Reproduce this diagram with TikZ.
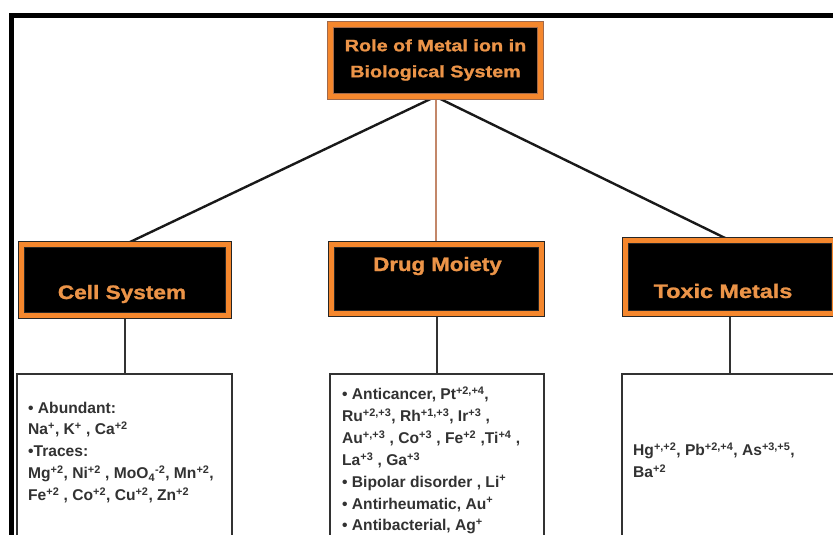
\documentclass[tikz,border=0pt]{standalone}
\usepackage{fontspec}
\setmainfont{Liberation Sans}
\newfontfamily\headfont[FakeBold=1.2]{Liberation Sans Bold}
\usetikzlibrary{backgrounds}
\definecolor{orng}{RGB}{245,135,45}
\definecolor{txtor}{RGB}{236,148,72}
\definecolor{brn}{RGB}{160,105,75}
\definecolor{ink}{RGB}{50,50,50}
\definecolor{tan}{RGB}{195,135,105}
\begin{document}
\begin{tikzpicture}[x=1pt,y=-1pt,
  hbox/.style={draw=black!85, double=orng, double distance=5pt, line width=0.9pt,
    fill=black, inner sep=0pt, outer sep=0pt},
  htext/.style={text=txtor, font=\fontsize{19.5}{22}\selectfont\headfont, inner sep=0pt},
  lbox/.style={draw=ink, line width=2pt, fill=white, inner sep=0pt, outer sep=0pt},
  ltext/.style={text=ink, font=\fontsize{15.6}{21.9}\selectfont\bfseries, align=left,
    anchor=north west, inner sep=0pt},
  conn/.style={line width=2.4pt, draw=black!90}
]
\useasboundingbox (0,0) rectangle (833,535);
\clip (0,0) rectangle (833,535);

% outer frame
\draw[line width=5pt, line cap=rect] (11.5,540) -- (11.5,15.5) -- (840,15.5);

% heading boxes
\node[hbox, draw=brn, minimum width=210.2pt, minimum height=72.2pt] (title) at (435.5,60.5) {};
\node[hbox, minimum width=207.2pt, minimum height=71.2pt] (cell) at (125,280) {};
\node[hbox, minimum width=210.2pt, minimum height=69.2pt] (drug) at (436.5,279) {};
\node[hbox, minimum width=209.2pt, minimum height=73.2pt] (tox) at (730,277) {};

% heading texts
\node[htext, font=\fontsize{16.5}{26}\selectfont\headfont, align=center] (titletxt) at (435.5,60)
  {\scalebox{1.2}[1]{Role of Metal ion in}\\\scalebox{1.2}[1]{Biological System}};
\node[htext] (celltxt) at (122,294) {\scalebox{1.16}[1]{Cell System}};
\node[htext] (drugtxt) at (437.5,266) {\scalebox{1.14}[1]{Drug Moiety}};
\node[htext] (toxtxt) at (723,291) {\scalebox{1.2}[1]{Toxic Metals}};

% lower boxes
\node[lbox, minimum width=215pt, minimum height=186pt] (celllow) at (124.5,467) {};
\node[lbox, minimum width=214pt, minimum height=186pt] (druglow) at (437,467) {};
\node[lbox, minimum width=218pt, minimum height=186pt] (toxlow) at (731,467) {};

% connectors
\begin{scope}[on background layer]
\draw[conn] (title.south) -- (cell.north);
\draw[conn] (title.south) -- (tox.north);
\draw[line width=2pt, draw=tan] (title.south) -- (title.south |- drug.north);
\draw[line width=2pt, draw=ink] (cell.south) -- (cell.south |- celllow.north);
\draw[line width=2pt, draw=ink] (drug.south) -- (drug.south |- druglow.north);
\draw[line width=2pt, draw=ink] (tox.south) -- (tox.south |- toxlow.north);
\end{scope}

% lower texts
\node[ltext] (celllist) at (28,401.5) {%
• Abundant:\\
Na\textsuperscript{+}, K\textsuperscript{+} , Ca\textsuperscript{+2}\\
•Traces:\\
Mg\textsuperscript{+2}, Ni\textsuperscript{+2} , MoO\textsubscript{4}\textsuperscript{-2}, Mn\textsuperscript{+2},\\
Fe\textsuperscript{+2} , Co\textsuperscript{+2}, Cu\textsuperscript{+2}, Zn\textsuperscript{+2}};
\node[ltext] (druglist) at (342,386.5) {%
• Anticancer, Pt\textsuperscript{+2,+4},\\
Ru\textsuperscript{+2,+3}, Rh\textsuperscript{+1,+3}, Ir\textsuperscript{+3} ,\\
Au\textsuperscript{+,+3} , Co\textsuperscript{+3} , Fe\textsuperscript{+2} ,Ti\textsuperscript{+4} ,\\
La\textsuperscript{+3} , Ga\textsuperscript{+3}\\
• Bipolar disorder , Li\textsuperscript{+}\\
• Antirheumatic, Au\textsuperscript{+}\\
• Antibacterial, Ag\textsuperscript{+}};
\node[ltext] (toxlist) at (633,442.5) {%
Hg\textsuperscript{+,+2}, Pb\textsuperscript{+2,+4}, As\textsuperscript{+3,+5},\\
Ba\textsuperscript{+2}};
\end{tikzpicture}
\end{document}
